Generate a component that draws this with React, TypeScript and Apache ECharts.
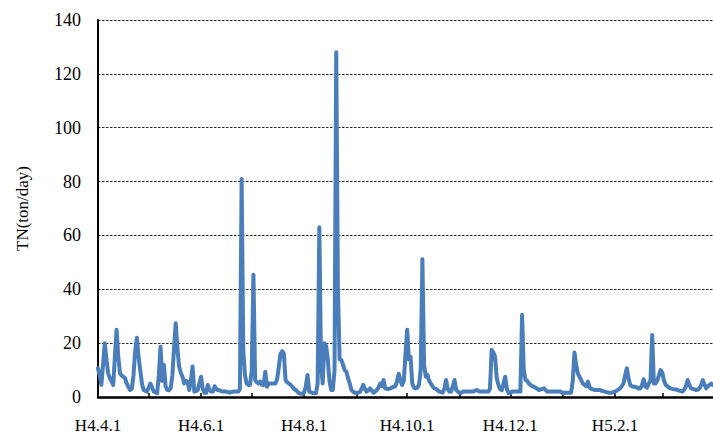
import React, { useEffect, useRef } from "react";
import * as echarts from "echarts";

// Months of the record (Heisei era), April H4 .. March H5
const monthKeys = ["H4.4", "H4.5", "H4.6", "H4.7", "H4.8", "H4.9", "H4.10", "H4.11", "H4.12", "H5.1", "H5.2", "H5.3"];
const monthDays = [30, 31, 30, 31, 31, 30, 31, 30, 31, 31, 28, 31];

// Daily TN load (ton/day), one array per month
const aprVals = [10.7, 8, 4.5, 12, 20, 14, 8.8, 7, 6, 4.5, 15, 25, 15, 8.8, 8, 7.5, 7, 5, 3.8, 2.6, 3, 8, 17, 22, 15, 10, 5, 2.6, 2.3, 2];
const mayVals = [3.5, 5, 3.5, 2, 1.8, 1.4, 8, 18.7, 6, 12, 4, 2.6, 2.5, 3.2, 8, 18, 27.4, 18, 11.3, 9, 7.5, 5, 6, 5.7, 2.6, 6, 11.3, 2, 2.2, 2.6, 5];
const junVals = [7.5, 3, 1.6, 1.5, 4.5, 2.5, 2, 2, 4, 3, 2.5, 2.5, 2.2, 2, 2, 2, 1.8, 1.6, 1.8, 2, 2, 2, 2, 3, 81, 17, 8, 5, 4.5, 4.5];
const julVals = [10, 45.4, 6.3, 5.5, 5, 5.7, 4.5, 4.5, 9.4, 3.8, 5, 5, 5, 5, 5, 6.5, 11, 16, 17, 16.2, 6.3, 5.5, 5, 4.5, 3.8, 3, 2.6, 2, 1.4, 1.3, 1.2];
const augVals = [1.6, 4, 8.2, 2, 1.8, 1.5, 1.4, 1.4, 5, 63, 12, 5, 20, 19, 14, 6, 2.6, 2.6, 10, 128, 40, 14, 13.8, 12, 10, 9.4, 7, 5, 2.6, 2, 1.6];
const sepVals = [1.6, 1.6, 1.8, 3, 4.5, 3, 2, 2.5, 3.2, 2.5, 1.6, 2, 2.6, 3.5, 5, 4, 6.3, 3.2, 3, 3, 3.2, 3.5, 3.8, 4, 6, 8.6, 6, 4.5, 6, 16];
const octVals = [25, 14, 15, 5, 3.5, 3.2, 3.5, 4.5, 10, 51.2, 12, 7.5, 8.2, 6, 5, 4, 3.2, 3, 2.5, 2, 1.8, 1.6, 3, 6.3, 3, 2, 2, 4, 6.3, 2.6, 2];
const novVals = [1.6, 1.6, 2, 2, 2, 2, 2, 2, 2, 2.3, 2.6, 2.3, 2, 2, 2, 2, 2, 2, 3, 17.5, 16.5, 15, 7, 4.5, 3, 2.5, 5, 7.5, 3, 1.4];
const decVals = [1.5, 2, 2, 2, 2, 2, 2, 30.5, 10, 6.3, 6, 5, 4.5, 4, 3.8, 3.5, 3, 2.6, 2.8, 3, 3.2, 2.5, 2, 2, 2, 2, 2, 2, 2, 2, 2];
const janVals = [1.4, 1.6, 1.6, 1.6, 1.6, 1.6, 6, 16.5, 12, 8.8, 7.5, 6.3, 5, 4.5, 4, 5.7, 3.5, 3, 2.8, 2.6, 2.6, 2.6, 2.6, 2.3, 2.2, 2, 1.8, 1.6, 1.6, 1.6, 1.8];
const febVals = [2, 2.3, 2.8, 3.2, 4, 5, 8, 10.7, 7, 4.5, 4, 3.8, 3.8, 3.5, 3.2, 3.2, 4.5, 6.6, 3.8, 3.5, 5, 6, 23, 5, 5, 6, 8, 10];
const marVals = [9, 6, 4.5, 4, 3.5, 3.2, 3, 2.9, 2.8, 2.6, 2.4, 2.2, 2, 2.8, 4, 6.3, 4.5, 3.2, 3, 2.8, 2.6, 2.8, 3.2, 4.5, 6.3, 4.5, 3.2, 4, 4.5, 5, 4.5];

const tickLabels = ["H4.4.1", "H4.6.1", "H4.8.1", "H4.10.1", "H4.12.1", "H5.2.1"];
const yTicks = { min: 0, max: 140, interval: 20 };

const FONT = "'Liberation Serif', 'Times New Roman', serif";

export default function App() {
  const ref = useRef<HTMLDivElement>(null);

  useEffect(() => {
    if (!ref.current) return;
    const chart = echarts.init(ref.current, undefined, { renderer: "svg" });

    const categories: string[] = [];
    monthKeys.forEach((k, i) => {
      for (let d = 1; d <= monthDays[i]; d++) categories.push(`${k}.${d}`);
    });
    const values = [
      ...aprVals, ...mayVals, ...junVals, ...julVals, ...augVals, ...sepVals,
      ...octVals, ...novVals, ...decVals, ...janVals, ...febVals, ...marVals,
    ];

    chart.setOption({
      animation: false,
      grid: { left: 98, right: -3, top: 20, bottom: 40, containLabel: false },
      xAxis: {
        type: "category",
        data: categories,
        boundaryGap: false,
        axisLine: { show: true, lineStyle: { color: "#000", width: 2.5 } },
        axisTick: {
          show: true,
          inside: true,
          length: 4,
          interval: (_i: number, v: string) => v.endsWith(".1"),
          lineStyle: { color: "#000", width: 1.5 },
        },
        axisLabel: {
          interval: (_i: number, v: string) => tickLabels.includes(v),
          fontFamily: FONT,
          fontSize: 17,
          color: "#000",
          margin: 20,
        },
        splitLine: { show: false },
      },
      yAxis: {
        type: "value",
        min: yTicks.min,
        max: yTicks.max,
        interval: yTicks.interval,
        name: "TN(ton/day)",
        nameLocation: "middle",
        nameGap: 67,
        nameRotate: 90,
        nameTextStyle: { fontFamily: FONT, fontSize: 17, color: "#000" },
        axisLine: { show: true, lineStyle: { color: "#000", width: 2 } },
        axisTick: { show: false },
        axisLabel: { fontFamily: FONT, fontSize: 18, color: "#000", margin: 17 },
        splitLine: {
          show: true,
          lineStyle: { color: "#222", width: 1, type: [2.5, 1.5] },
        },
      },
      series: [
        {
          type: "line",
          data: values,
          showSymbol: false,
          symbol: "none",
          lineStyle: { color: "#4a7ebb", width: 4, join: "round", cap: "round" },
          z: 3,
        },
      ],
    });

    return () => chart.dispose();
  }, []);

  return (
    <div
      ref={ref}
      style={{ position: "absolute", left: 0, top: 0, width: 713, height: 437, background: "#fff" }}
    />
  );
}
